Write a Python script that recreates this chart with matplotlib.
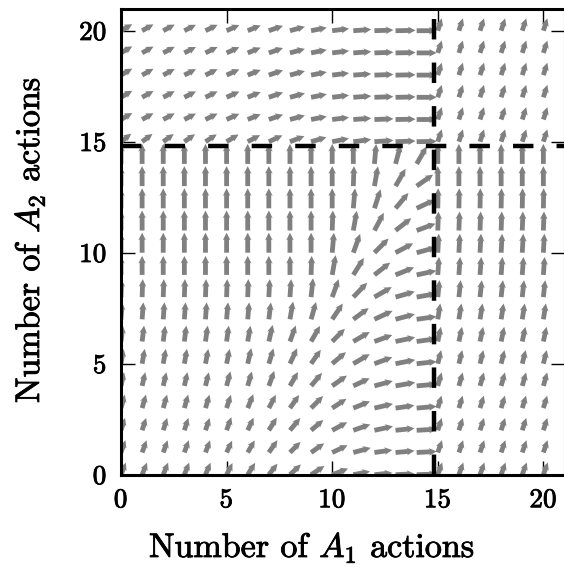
import numpy as np
import matplotlib
matplotlib.use('Agg')
import matplotlib.pyplot as plt
import matplotlib.patheffects as pe

plt.rcParams['font.family'] = 'cmr10'
plt.rcParams['mathtext.fontset'] = 'cm'
plt.rcParams['axes.formatter.use_mathtext'] = True

# grid of action counts
n_a1 = list(range(21))
n_a2 = list(range(21))
threshold = 14.8

# arrow angles (deg) and lengths (px)
# lower-left block: rows A2 = 0..14, columns A1 = 0..14
ang_low_left = [
    [68, 68, 68, 68, 67, 63, 58, 52, 43, 33, 21, 11, 6, 3, 2],
    [70, 70, 70, 70, 69, 65, 60, 55, 45, 35, 25, 15, 8, 5, 3],
    [72, 72, 72, 72, 71, 70, 65, 58, 50, 40, 28, 19, 12, 6, 3],
    [74, 74, 74, 74, 73, 72, 68, 62, 55, 45, 33, 22, 13, 8, 5],
    [77, 77, 77, 77, 76, 75, 74, 70, 60, 50, 35, 25, 15, 10, 5],
    [80, 80, 80, 80, 79, 78, 77, 73, 65, 55, 40, 30, 20, 11, 6],
    [83, 83, 83, 83, 82, 82, 80, 77, 70, 60, 45, 30, 20, 12, 8],
    [86, 86, 86, 86, 86, 85, 85, 83, 80, 74, 56, 36, 25, 15, 8],
    [88, 88, 88, 88, 88, 88, 88, 87, 86, 84, 70, 46, 30, 16, 10],
    [90, 90, 90, 90, 90, 90, 90, 90, 90, 88, 80, 58, 38, 22, 12],
    [90, 90, 90, 90, 90, 90, 90, 90, 90, 90, 85, 70, 45, 28, 15],
    [90, 90, 90, 90, 90, 90, 90, 90, 90, 90, 88, 80, 62, 38, 20],
    [90, 90, 90, 90, 90, 90, 90, 90, 90, 90, 90, 85, 72, 50, 25],
    [90, 90, 90, 90, 90, 90, 90, 90, 90, 90, 90, 88, 80, 60, 35],
    [90, 90, 90, 90, 90, 90, 90, 90, 90, 90, 90, 90, 85, 75, 60],
]
len_low_left = [
    [13, 13, 13, 13, 13, 13, 14, 14, 15, 16, 17, 17, 18, 19, 20],
    [13, 13, 13, 13, 13, 13, 14, 15, 15, 16, 17, 18, 18, 19, 20],
    [13, 13, 13, 13, 13, 14, 14, 15, 16, 16, 17, 18, 19, 19, 20],
    [14, 14, 14, 14, 14, 14, 15, 15, 16, 17, 17, 18, 19, 19, 20],
    [14, 14, 14, 14, 14, 15, 15, 16, 16, 17, 18, 18, 19, 20, 20],
    [15, 15, 15, 15, 15, 15, 16, 16, 17, 17, 18, 19, 19, 20, 20],
    [16, 16, 16, 16, 16, 16, 16, 17, 17, 18, 18, 19, 19, 20, 20],
    [17, 17, 17, 17, 17, 17, 17, 17, 18, 18, 19, 19, 20, 20, 20],
    [18, 18, 18, 18, 18, 18, 18, 18, 18, 19, 19, 20, 20, 20, 20],
    [19, 19, 19, 19, 19, 19, 19, 19, 19, 19, 20, 20, 20, 20, 20],
    [20, 20, 20, 20, 20, 20, 20, 20, 20, 20, 20, 20, 20, 20, 20],
    [20, 20, 20, 20, 20, 20, 20, 20, 20, 20, 20, 20, 20, 20, 20],
    [20, 20, 20, 20, 20, 20, 20, 20, 20, 20, 20, 20, 20, 20, 20],
    [20, 20, 20, 20, 20, 20, 20, 20, 20, 20, 20, 20, 20, 20, 20],
    [20, 20, 20, 20, 20, 20, 20, 20, 20, 20, 20, 20, 20, 20, 20],
]
# lower-right block (A1 = 15..20), one value per row A2 = 0..14
ang_low_right = [70, 71, 72, 73, 74, 76, 78, 81, 84, 86, 87, 88, 89, 90, 90]
len_low_right = [13, 13, 13, 13, 14, 14, 15, 16, 17, 18, 19, 19, 20, 20, 20]
# upper-left block (A2 = 15..20), one value per column A1 = 0..14
ang_top_left = [30, 29, 28, 27, 26, 24, 22, 19, 15, 11, 7, 4, 2, 1, 0]
ang_top_left_row15 = [38, 37, 36, 35, 33, 31, 28, 25, 21, 16, 11, 7, 4, 2, 1]
len_top_left = [13, 13, 13, 13, 13.5, 14, 14, 15, 15.5, 16, 17, 18, 19, 20, 20]
# upper-right block
ang_top_right = 72
len_top_right = 13

ang = np.zeros((21, 21))
ln = np.zeros((21, 21))
ang[:15, :15] = ang_low_left
ln[:15, :15] = len_low_left
ang[:15, 15:] = np.array(ang_low_right)[:, None]
ln[:15, 15:] = np.array(len_low_right)[:, None]
ang[15:, :15] = ang_top_left
ang[15, :15] = ang_top_left_row15
ln[15:, :15] = len_top_left
ang[15:, 15:] = ang_top_right
ln[15:, 15:] = len_top_right

U = ln * np.cos(np.radians(ang))
V = ln * np.sin(np.radians(ang))
X, Y = np.meshgrid(n_a1, n_a2)

fig = plt.figure(figsize=(5.64, 5.74), dpi=100)
ax = fig.add_axes([121 / 564, 99.3 / 574, 443.5 / 564, 466.2 / 574])

ax.quiver(X, Y, U, V, color='gray', angles='uv', pivot='tail',
          scale_units='inches', scale=100, units='inches', width=0.048,
          headwidth=1.6, headlength=1.6, headaxislength=1.4, zorder=2)

ax.axhline(threshold, color='k', lw=3.2, ls=(0, (4.6, 5.2)), zorder=3)
ax.axvline(threshold, color='k', lw=3.2, ls=(0, (4.6, 5.2)), zorder=3)

ax.set_xlim(0, 21)
ax.set_ylim(0, 21)
ax.set_xticks([0, 5, 10, 15, 20])
ax.set_yticks([0, 5, 10, 15, 20])
ax.tick_params(direction='in', length=10, width=1, top=True, right=True,
               labelsize=19.5, pad=10)
for s in ax.spines.values():
    s.set_linewidth(2.2)

thick = [pe.withStroke(linewidth=0.6, foreground='black')]
for t in ax.get_xticklabels() + ax.get_yticklabels():
    t.set_path_effects(thick)

fig.text(312 / 564, 1 - 548 / 574, r'Number of $A_1$ actions',
         ha='center', va='center', fontsize=24.5, path_effects=thick)
fig.text(30 / 564, 1 - 240 / 574, r'Number of $A_2$ actions',
         ha='center', va='center', rotation=90, fontsize=24.5,
         path_effects=thick)

fig.savefig('out.png', dpi=100)
